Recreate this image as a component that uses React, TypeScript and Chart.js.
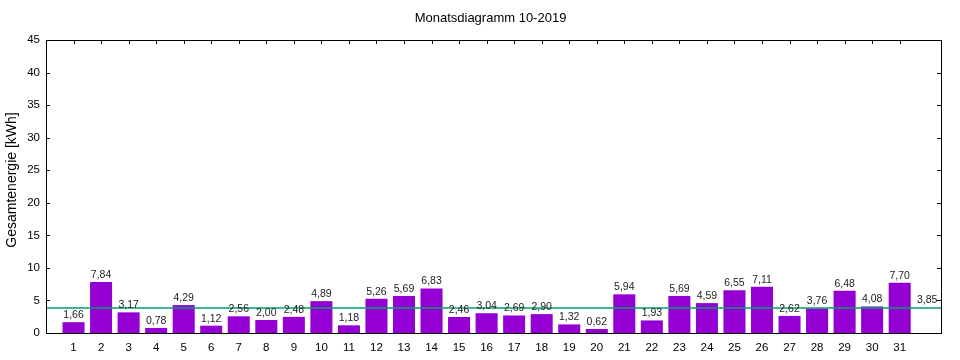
import React, { useEffect, useRef } from "react";
import { Chart, registerables } from "chart.js";

Chart.register(...registerables);

const chartTitle = "Monatsdiagramm 10-2019";
const yAxisTitle = "Gesamtenergie [kWh]";
const days = [1, 2, 3, 4, 5, 6, 7, 8, 9, 10, 11, 12, 13, 14, 15, 16, 17, 18, 19, 20, 21, 22, 23, 24, 25, 26, 27, 28, 29, 30, 31];
const energyValues = [1.66, 7.84, 3.17, 0.78, 4.29, 1.12, 2.56, 2.0, 2.48, 4.89, 1.18, 5.26, 5.69, 6.83, 2.46, 3.04, 2.69, 2.9, 1.32, 0.62, 5.94, 1.93, 5.69, 4.59, 6.55, 7.11, 2.62, 3.76, 6.48, 4.08, 7.7];
const averageValue = 3.85;
const averageLabelX = 32;
const xRange = [0, 32.5];
const yTicks = [0, 5, 10, 15, 20, 25, 30, 35, 40, 45];

const FONT = "'Liberation Sans', Arial, sans-serif";
const fmt = (v: number) => v.toFixed(2).replace(".", ",");

const framePlugin = {
  id: "gnuFrame",
  beforeDatasetsDraw(chart: any) {
    const { ctx, chartArea: a, scales } = chart;
    ctx.save();
    ctx.strokeStyle = "#000";
    ctx.lineWidth = 1;
    ctx.beginPath();
    const tl = 4;
    days.forEach((d) => {
      const x = Math.round(scales.x.getPixelForValue(d)) + 0.5;
      ctx.moveTo(x, a.top);
      ctx.lineTo(x, a.top + tl);
      ctx.moveTo(x, a.bottom);
      ctx.lineTo(x, a.bottom - tl);
    });
    yTicks.forEach((t) => {
      const y = Math.round(scales.y.getPixelForValue(t)) + 0.5;
      ctx.moveTo(a.left, y);
      ctx.lineTo(a.left + tl, y);
      ctx.moveTo(a.right, y);
      ctx.lineTo(a.right - tl, y);
    });
    ctx.stroke();
    ctx.restore();
  },
  afterDatasetsDraw(chart: any) {
    const { ctx, chartArea: a, scales } = chart;
    ctx.save();
    ctx.fillStyle = "#222";
    ctx.font = "10.5px " + FONT;
    ctx.textAlign = "center";
    ctx.textBaseline = "middle";
    days.forEach((d, i) => {
      const x = scales.x.getPixelForValue(d);
      const y = scales.y.getPixelForValue(energyValues[i]);
      ctx.fillText(fmt(energyValues[i]), x, y - 7);
    });
    ctx.fillText(
      fmt(averageValue),
      scales.x.getPixelForValue(averageLabelX),
      scales.y.getPixelForValue(averageValue) - 7.5
    );
    ctx.strokeStyle = "#000";
    ctx.lineWidth = 1;
    ctx.strokeRect(
      Math.round(a.left) + 0.5,
      Math.round(a.top) + 0.5,
      Math.round(a.right - a.left),
      Math.round(a.bottom - a.top)
    );
    // titles
    ctx.fillStyle = "#000";
    ctx.font = "13px " + FONT;
    ctx.fillText(chartTitle, (a.left + a.right) / 2 - 3, 18);
    ctx.translate(12, 180);
    ctx.rotate(-Math.PI / 2);
    ctx.font = "14px " + FONT;
    ctx.fillText(yAxisTitle, 0, 0);
    ctx.restore();
  },
};

export default function App() {
  const ref = useRef<HTMLCanvasElement | null>(null);
  useEffect(() => {
    document.body.style.margin = "0";
    if (!ref.current) return;
    const chart = new Chart(ref.current, {
      type: "bar",
      data: {
        datasets: [
          {
            type: "bar",
            data: days.map((d, i) => ({ x: d, y: energyValues[i] })),
            backgroundColor: "#9400d3",
            borderWidth: 0,
            barPercentage: 0.8,
            categoryPercentage: 1,
            order: 2,
          },
          {
            type: "line",
            data: xRange.map((x) => ({ x, y: averageValue })),
            borderColor: "#009e73",
            borderWidth: 1.5,
            pointRadius: 0,
            order: 1,
          } as any,
        ],
      },
      options: {
        animation: false,
        responsive: false,
        layout: { padding: { left: 0, right: 19, top: 40, bottom: 0 } },
        plugins: {
          legend: { display: false },
          tooltip: { enabled: false },
          title: { display: false },
        },
        scales: {
          x: {
            type: "linear",
            min: xRange[0],
            max: xRange[1],
            offset: false,
            grid: { display: false, drawTicks: false, offset: false },
            border: { display: false },
            ticks: {
              stepSize: 1,
              autoSkip: false,
              maxRotation: 0,
              padding: 8,
              color: "#000",
              font: { family: FONT, size: 11.5 },
              callback: (v: any) => (v >= 1 && v <= 31 ? String(v) : ""),
            },
            afterFit: (s: any) => {
              s.height = 27;
            },
          },
          y: {
            min: 0,
            max: 45,
            grid: { display: false, drawTicks: false },
            border: { display: false },
            ticks: {
              stepSize: 5,
              padding: 6,
              color: "#000",
              font: { family: FONT, size: 11.5 },
            },
            afterFit: (s: any) => {
              s.width = 46;
            },
          },
        },
      },
      plugins: [framePlugin],
    });
    return () => chart.destroy();
  }, []);
  return (
    <div style={{ width: 960, height: 360 }}>
      <canvas ref={ref} width={960} height={360} />
    </div>
  );
}
